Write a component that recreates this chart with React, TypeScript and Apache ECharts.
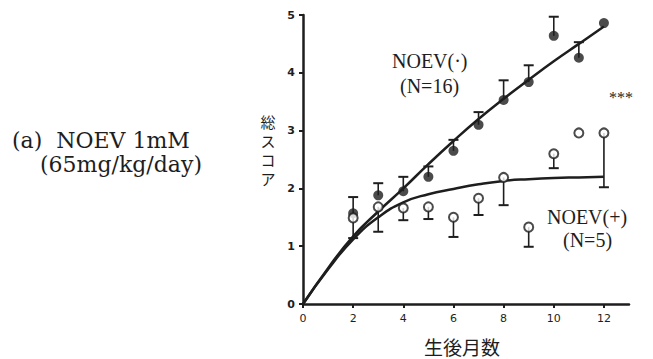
import React, { useEffect, useRef } from "react";
import * as echarts from "echarts";

const months = [2, 3, 4, 5, 6, 7, 8, 9, 10, 11, 12];
const minusMean = [1.57, 1.88, 1.95, 2.2, 2.65, 3.1, 3.53, 3.84, 4.64, 4.26, 4.86];
const minusUpper = [1.85, 2.09, 2.2, 2.38, 2.84, 3.32, 3.87, 4.13, 4.97, 4.53, null];
const plusMean = [1.49, 1.68, 1.66, 1.68, 1.5, 1.83, 2.19, 1.33, 2.6, 2.96, 2.96];
const plusLower = [1.14, 1.25, 1.45, 1.47, 1.16, 1.54, 1.71, 0.99, 2.35, null, 2.02];

const fitMonths = [0, 1, 2, 3, 4, 5, 6, 7, 8, 9, 10, 11, 12];
const minusFit = [0, 0.62, 1.17, 1.6, 2.0, 2.42, 2.82, 3.2, 3.55, 3.88, 4.2, 4.5, 4.8];
const plusFit = [0, 0.6, 1.12, 1.5, 1.76, 1.9, 1.99, 2.07, 2.13, 2.16, 2.18, 2.19, 2.2];

const xTicks = [0, 2, 4, 6, 8, 10, 12];
const yTicks = [0, 1, 2, 3, 4, 5];
const yTitleChars = ["総", "ス", "コ", "ア"];

const INK = "#1e1e1e";

function errSeries(mean: number[], bound: (number | null)[]) {
  const data: number[][] = [];
  months.forEach((m, i) => {
    const b = bound[i];
    if (b !== null && b !== undefined) data.push([m, mean[i], b]);
  });
  return {
    type: "custom",
    data,
    z: 1,
    renderItem: (_p: any, api: any) => {
      const x = api.value(0);
      const p1 = api.coord([x, api.value(1)]);
      const p2 = api.coord([x, api.value(2)]);
      return {
        type: "group",
        children: [
          { type: "line", shape: { x1: p1[0], y1: p1[1], x2: p2[0], y2: p2[1] }, style: { stroke: INK, lineWidth: 1.6 } },
          { type: "line", shape: { x1: p2[0] - 5, y1: p2[1], x2: p2[0] + 5, y2: p2[1] }, style: { stroke: INK, lineWidth: 2 } },
        ],
      };
    },
  };
}

export default function App() {
  const ref = useRef<HTMLDivElement>(null);
  useEffect(() => {
    const chart = echarts.init(ref.current!, null, { renderer: "svg" });
    const serif = "'Liberation Serif', 'DejaVu Serif', serif";
    const wideSerif = "'DejaVu Serif', serif";
    chart.setOption({
      animation: false,
      backgroundColor: "#ffffff",
      grid: { left: 303, right: 24, top: 15, bottom: 55, containLabel: false },
      xAxis: {
        type: "value",
        min: 0,
        max: 13,
        interval: 2,
        splitLine: { show: false },
        axisLine: { lineStyle: { color: INK, width: 2.5 } },
        axisTick: { show: true, length: 4, lineStyle: { color: INK, width: 2 }, customValues: xTicks },
        axisLabel: { color: INK, fontSize: 11, margin: 9, fontFamily: "'DejaVu Sans', sans-serif", customValues: xTicks },
      },
      yAxis: {
        type: "value",
        min: 0,
        max: 5,
        interval: 1,
        splitLine: { show: false },
        axisLine: { show: true, lineStyle: { color: INK, width: 2.5 } },
        axisTick: { show: true, length: 4, lineStyle: { color: INK, width: 2 }, customValues: yTicks },
        axisLabel: { color: INK, fontSize: 11, margin: 8, fontWeight: "bold", fontFamily: "'DejaVu Sans', sans-serif", customValues: yTicks },
      },
      series: [
        {
          type: "line",
          data: fitMonths.map((m, i) => [m, minusFit[i]]),
          smooth: true,
          symbol: "none",
          lineStyle: { color: INK, width: 2.5 },
          z: 2,
        },
        {
          type: "line",
          data: fitMonths.map((m, i) => [m, plusFit[i]]),
          smooth: true,
          symbol: "none",
          lineStyle: { color: INK, width: 2.5 },
          z: 2,
        },
        errSeries(minusMean, minusUpper),
        errSeries(plusMean, plusLower),
        {
          type: "scatter",
          data: months.map((m, i) => [m, minusMean[i]]),
          symbol: "circle",
          symbolSize: 10,
          itemStyle: { color: INK },
          z: 3,
        },
        {
          type: "scatter",
          data: months.map((m, i) => [m, plusMean[i]]),
          symbol: "circle",
          symbolSize: 9,
          itemStyle: { color: "#ffffff", borderColor: INK, borderWidth: 2 },
          z: 4,
        },
      ],
      graphic: [
        { type: "text", x: 12, y: 140, style: { text: "(a)  NOEV 1mM", font: `22px ${wideSerif}`, fill: INK, verticalAlign: "middle" } },
        { type: "text", x: 40, y: 164, style: { text: "(65mg/kg/day)", font: `22px ${wideSerif}`, fill: INK, verticalAlign: "middle" } },
        { type: "text", x: 392, y: 61, style: { text: "NOEV(·)", font: `20px ${serif}`, fill: INK, verticalAlign: "middle" } },
        { type: "text", x: 400, y: 86, style: { text: "(N=16)", font: `20px ${serif}`, fill: INK, verticalAlign: "middle" } },
        { type: "text", x: 547, y: 217, style: { text: "NOEV(+)", font: `20px ${serif}`, fill: INK, verticalAlign: "middle" } },
        { type: "text", x: 563, y: 240, style: { text: "(N=5)", font: `20px ${serif}`, fill: INK, verticalAlign: "middle" } },
        { type: "text", x: 609, y: 97, style: { text: "***", font: `16px ${serif}`, fill: INK, verticalAlign: "middle" } },
        ...yTitleChars.map((c, i) => ({
          type: "text",
          x: 268,
          y: 121 + i * 19,
          style: { text: c, font: `15px 'Noto Sans CJK JP'`, fill: INK, align: "center", verticalAlign: "middle" },
        })),
        { type: "text", x: 462, y: 346, style: { text: "生後月数", font: `19px 'Noto Sans CJK JP'`, fill: INK, align: "center", verticalAlign: "middle" } },
      ],
    });
    return () => chart.dispose();
  }, []);
  return <div ref={ref} style={{ position: "fixed", left: 0, top: 0, width: 653, height: 359 }} />;
}
